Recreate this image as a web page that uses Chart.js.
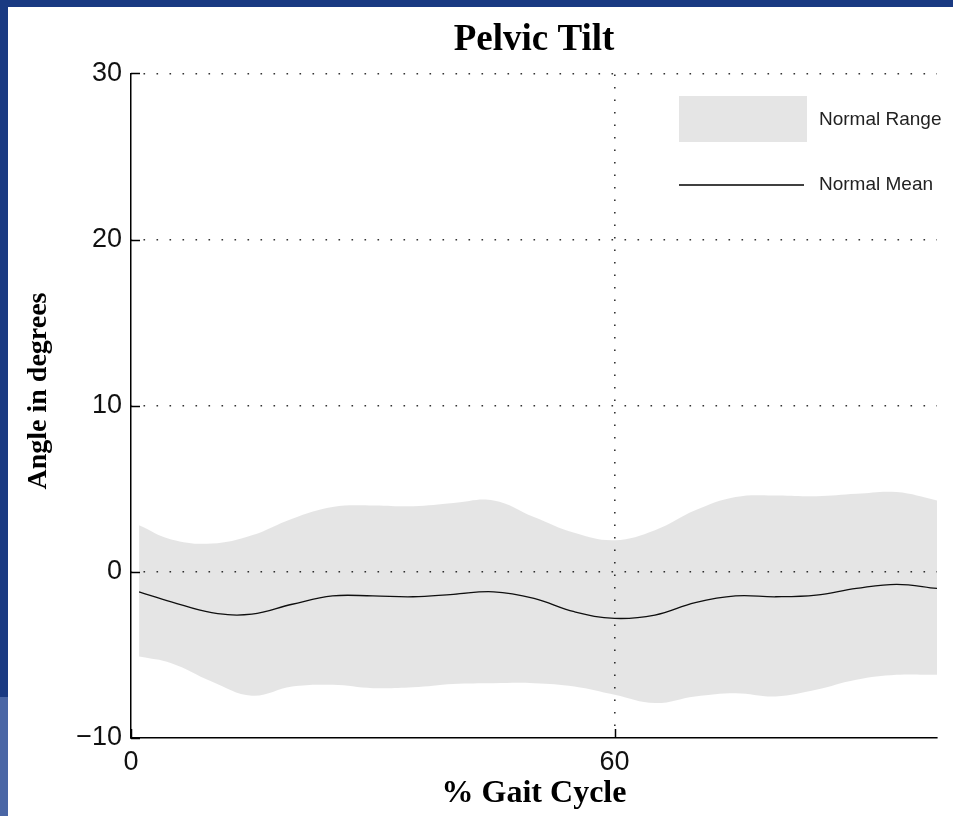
<!DOCTYPE html>
<html><head><meta charset="utf-8">
<script src="https://cdn.jsdelivr.net/npm/chart.js@4.4.1/dist/chart.umd.min.js"></script>
<style>
html,body{margin:0;padding:0;background:#fff;}
#wrap{position:relative;width:953px;height:816px;overflow:hidden;background:#fff;}
canvas{position:absolute;left:0;top:0;}
.bar{position:absolute;}
</style></head><body>
<div id="wrap">
<canvas id="c" width="953" height="816"></canvas>
<div class="bar" style="left:0;top:0;width:953px;height:7px;background:#1a3a82"></div>
<div class="bar" style="left:0;top:0;width:8px;height:697px;background:#1a3a82"></div>
<div class="bar" style="left:0;top:697px;width:8px;height:119px;background:#4a66a5"></div>
</div>
<script>
// ---- data ----
const gaitPct   = [1, 5, 10, 15, 20, 25, 30, 35, 40, 45, 50, 55, 60, 65, 70, 75, 80, 85, 90, 95, 100];
const rangeHigh = [2.8, 1.95, 1.7, 2.2, 3.2, 3.9, 4.0, 3.95, 4.15, 4.3, 3.3, 2.35, 1.9, 2.5, 3.7, 4.5, 4.6, 4.55, 4.7, 4.8, 4.3];
const rangeLow  = [-5.1, -5.5, -6.6, -7.45, -6.9, -6.8, -7.0, -6.95, -6.75, -6.7, -6.7, -6.9, -7.4, -7.9, -7.5, -7.3, -7.5, -7.1, -6.5, -6.2, -6.2];
const meanLine  = [-1.2, -1.8, -2.45, -2.55, -1.95, -1.45, -1.45, -1.5, -1.35, -1.2, -1.6, -2.4, -2.8, -2.6, -1.85, -1.45, -1.5, -1.4, -1.0, -0.75, -1.0];
const xTicks = [0, 60];
const yTicks = [-10, 0, 10, 20, 30];
const chartTitle = 'Pelvic Tilt';
const xTitle = '% Gait Cycle';
const yTitle = 'Angle in degrees';
const rangeLabel = 'Normal Range';
const meanLabel = 'Normal Mean';

const BAND = 'rgba(0,0,0,0.1)';
const GRID = '#333';
const pts = arr => gaitPct.map((x, i) => ({x, y: arr[i]}));

const extras = {
  id: 'extras',
  afterDraw(chart) {
    const {ctx, scales: {x, y}, chartArea: a} = chart;
    ctx.save();
    ctx.strokeStyle = '#000';
    ctx.lineWidth = 1.5;
    yTicks.forEach(v => {
      const py = Math.round(y.getPixelForValue(v)) + 0.5;
      ctx.beginPath(); ctx.moveTo(a.left, py); ctx.lineTo(a.left + 9, py); ctx.stroke();
    });
    xTicks.forEach(v => {
      const px = Math.round(x.getPixelForValue(v)) + 0.5;
      ctx.beginPath(); ctx.moveTo(px, a.bottom); ctx.lineTo(px, a.bottom - 9); ctx.stroke();
    });
    // legend
    ctx.fillStyle = '#e5e5e5';
    ctx.fillRect(679, 96, 128, 46);
    ctx.strokeStyle = '#000';
    ctx.lineWidth = 1.3;
    ctx.beginPath(); ctx.moveTo(679, 185); ctx.lineTo(804, 185); ctx.stroke();
    ctx.fillStyle = '#222';
    ctx.font = '19px "Liberation Sans", Arial, sans-serif';
    ctx.textAlign = 'left';
    ctx.textBaseline = 'middle';
    ctx.fillText(rangeLabel, 819, 120);
    ctx.fillText(meanLabel, 819, 185);
    // y axis title
    ctx.translate(38.5, 391);
    ctx.rotate(-Math.PI / 2);
    ctx.fillStyle = '#000';
    ctx.font = 'bold 28px "Liberation Serif", "Times New Roman", serif';
    ctx.textAlign = 'center';
    ctx.textBaseline = 'middle';
    ctx.fillText(yTitle, 0, 0);
    ctx.restore();
  }
};

new Chart(document.getElementById('c'), {
  type: 'line',
  data: {
    datasets: [
      {label: rangeLabel, data: pts(rangeHigh), borderWidth: 0, pointRadius: 0, backgroundColor: BAND, borderColor: 'rgba(0,0,0,0)', fill: '+1', tension: 0.4},
      {label: rangeLabel + ' low', data: pts(rangeLow), borderWidth: 0, pointRadius: 0, borderColor: 'rgba(0,0,0,0)', fill: false, tension: 0.4},
      {label: meanLabel, data: pts(meanLine), borderWidth: 1.3, pointRadius: 0, borderColor: '#111', fill: false, tension: 0.4}
    ]
  },
  options: {
    responsive: false,
    animation: false,
    devicePixelRatio: 1,
    layout: {padding: {left: 0, right: 16, top: 0, bottom: 0}},
    plugins: {
      legend: {display: false},
      tooltip: {enabled: false},
      title: {
        display: true, text: chartTitle, fullSize: false, color: '#000',
        font: {family: '"Liberation Serif", "Times New Roman", serif', size: 37, weight: 'bold'},
        padding: {top: 18, bottom: 11}
      }
    },
    scales: {
      x: {
        type: 'linear', min: 0, max: 100,
        afterBuildTicks: s => { s.ticks = xTicks.map(v => ({value: v})); },
        afterFit: s => { s.height = 78; },
        ticks: {font: {family: '"Liberation Sans", Arial, sans-serif', size: 27}, color: '#111', padding: 8, maxRotation: 0, autoSkip: false},
        grid: {drawTicks: false, lineWidth: 1.6, color: c => (c.tick && c.tick.value === 60) ? GRID : 'rgba(0,0,0,0)'},
        border: {display: true, color: '#000', width: 1.5, dash: [1.6, 10.9], dashOffset: -1},
        title: {display: true, text: xTitle, color: '#000', font: {family: '"Liberation Serif", "Times New Roman", serif', size: 32, weight: 'bold'}, padding: {top: 0, bottom: 3}}
      },
      y: {
        min: -10, max: 30,
        afterBuildTicks: s => { s.ticks = yTicks.map(v => ({value: v})); },
        afterFit: s => { s.width = 131; },
        ticks: {font: {family: '"Liberation Sans", Arial, sans-serif', size: 27}, color: '#111', padding: 9,
          callback: v => String(v).replace('-', '\u2212')},
        grid: {drawTicks: false, lineWidth: 1.6, color: c => (c.tick && c.tick.value === -10) ? 'rgba(0,0,0,0)' : GRID},
        border: {display: true, color: '#000', width: 1.5, dash: [1.6, 11.4], dashOffset: -12}
      }
    }
  },
  plugins: [extras]
});
</script>
</body></html>
